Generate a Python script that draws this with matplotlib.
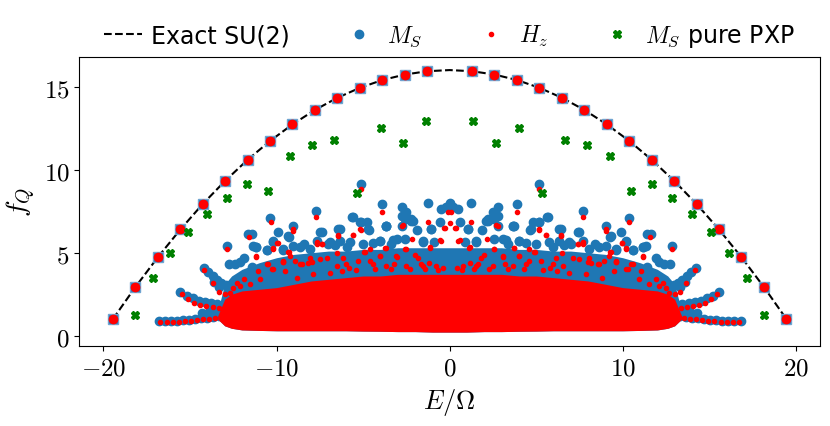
import numpy as np
import matplotlib.pyplot as plt

plt.rcParams['mathtext.fontset'] = 'cm'
plt.rcParams['font.family'] = ['DejaVu Sans']

# exact SU(2) tower (m = -15..15)
su2_E = [-19.46, -18.16, -16.86, -15.56, -14.27, -12.97, -11.67, -10.38, -9.08, -7.78,
         -6.49, -5.19, -3.89, -2.59, -1.30, 0.0, 1.30, 2.59, 3.89, 5.19, 6.49, 7.78,
         9.08, 10.38, 11.67, 12.97, 14.27, 15.56, 16.86, 18.16, 19.46]
su2_fq = [1.0, 2.93, 4.73, 6.4, 7.93, 9.33, 10.6, 11.73, 12.73, 13.6, 14.33, 14.93,
          15.4, 15.73, 15.93, 16.0, 15.93, 15.73, 15.4, 14.93, 14.33, 13.6, 12.73,
          11.73, 10.6, 9.33, 7.93, 6.4, 4.73, 2.93, 1.0]

# pure PXP scar states (left half, spectrum is symmetric)
pxp_E_left = [-18.16, -17.16, -16.14, -15.12, -14.02, -12.87, -11.68, -10.47, -9.24,
              -7.94, -6.67, -5.34, -3.99, -2.69, -1.34]
pxp_fq_left = [1.25, 3.5, 4.98, 6.23, 7.31, 8.31, 9.16, 8.73, 10.85, 11.49, 11.80,
               8.62, 12.49, 11.60, 12.95]

# bulk of the spectrum: dense core envelopes (left half)
core_E = [-13.4, -13.0, -12.6, -12.0, -11.0, -10.0, -9.0, -8.0, -7.0, -6.0, -5.0,
          -4.0, -3.0, -2.0, -1.0, 0.0]
core_top = [1.2, 2.2, 2.5, 2.7, 2.8, 2.9, 3.1, 3.3, 3.4, 3.5, 3.6, 3.6, 3.7, 3.7, 3.7, 3.7]
core_bot = [1.0, 0.6, 0.45, 0.35, 0.32, 0.3, 0.3, 0.3, 0.3, 0.3, 0.28, 0.27, 0.25,
            0.25, 0.22, 0.22]
band_top = [1.5, 3.1, 3.6, 4.0, 4.4, 4.7, 4.9, 5.0, 5.1, 5.1, 5.2, 5.2, 5.3, 5.3, 5.3, 5.3]

# M_S scattered states (left half)
ms_E_left = [-16.81, -16.45, -16.1, -15.75, -15.4, -15.05, -14.7, -14.35, -14.0, -13.65, -13.3,
             -14.3, -13.9, -13.5,
             -15.56, -15.2, -14.85, -14.5, -14.15, -13.8, -13.45,
             -14.22, -13.95, -13.7, -13.45, -13.2, -12.95, -13.6, -13.3,
             -12.87, -11.63, -10.37, -12.72, -12.1, -11.18, -9.9, -9.03, -9.32, -7.72,
             -11.34, -10.18, -10.57, -9.61, -9.26, -7.39, -6.44, -7.68, -8.65, -8.07,
             -7.01, -6.34, -5.95, -11.43,
             -5.15, -3.88, -2.78, -2.5, -1.25, -5.61, -5.15, -4.65, -3.69, -2.78, -2.21,
             -1.88, -0.58, -4.03, -3.27, -2.59, -1.54, -6.34, -4.8, -3.65, -2.78, -2.21,
             -1.06, -0.48,
             -11.43, -11.18, -10.57, -7.49, -6.92, -5.67, -5.19, -4.71, -4.03, -3.65,
             -2.59, -2.11, -1.06, -0.19, -1.54, -3.07, -10.18, -9.61, -9.03, -5.76,
             -4.99, -12.4, -11.9, -8.4, -6.6, -4.4, -3.4, -0.9]
ms_fq_left = [0.88, 0.88, 0.89, 0.9, 0.93, 0.97, 1.0, 1.04, 1.08, 1.12, 1.17,
              1.35, 1.42, 1.5,
              2.62, 2.42, 2.25, 2.12, 2.04, 1.98, 1.93,
              4.1, 3.85, 3.6, 3.38, 3.2, 3.05, 3.25, 2.95,
              5.38, 6.13, 7.07, 4.32, 4.46, 5.33, 6.27, 6.63, 5.99, 7.49,
              5.42, 5.66, 5.18, 5.18, 5.93, 6.23, 6.43, 5.72, 5.33, 5.22,
              5.52, 5.72, 5.33, 4.12,
              9.16, 7.93, 7.76, 7.45, 8.02, 7.13, 6.87, 6.39, 6.58, 6.63, 6.93,
              6.39, 6.88, 5.72, 5.78, 5.83, 5.72, 6.43, 6.87, 6.63, 7.19, 7.03,
              6.43, 7.63,
              6.13, 5.32, 5.18, 6.23, 5.63, 7.13, 6.83, 6.43, 5.72, 6.63,
              7.03, 6.93, 6.43, 7.73, 5.63, 5.83, 5.73, 5.22, 5.42, 5.63,
              5.53, 4.3, 4.7, 5.5, 5.45, 5.6, 5.5, 5.65]
ms_E_mid = [0.0]
ms_fq_mid = [8.02]

# H_z scattered states (left half)
hz_E_left = [-16.71, -16.35, -16.0, -15.66, -15.3, -14.95, -14.6, -14.25, -13.9, -13.55, -13.2,
             -15.46, -15.1, -14.75, -14.4, -14.05, -13.7, -13.35,
             -14.18, -13.68, -13.33, -13.0, -12.7,
             -5.15, -7.72, -10.34, -11.59, -9.03, -9.93, -11.18, -10.57, -10.18, -9.61,
             -9.26, -7.39, -6.44, -7.68, -8.07, -12.87, -3.88, -5.57, -5.15, -4.61,
             -4.96, -3.69, -2.54, -2.15, -1.25, -0.58, -0.35, -1.11, -4.03, -3.11,
             -1.83, -5.28, -6.15, -3.65, -2.5, -1.54, -0.77, -0.1, -0.29, -2.78,
             -9.22, -9.61, -8.55, -7.97, -7.49, -7.11, -6.53, -10.18, -10.95, -11.53,
             -8.93, -12.3, -11.9, -5.8, -4.4, -3.2, -1.2, -0.4,
             -11.18, -10.18, -9.95, -9.64, -9.32, -9.03, -8.65, -8.16, -7.68, -7.4,
             -6.49, -6.44, -5.96, -5.57, -5.19, -4.9, -4.61, -4.03, -3.74, -3.07,
             -2.59, -2.69, -1.98, -1.63, -1.15, -0.48, -10.47, -11.05, -10.28, -9.51,
             -12.5, -12.1, -8.8, -7.9, -6.9, -6.2, -5.4, -4.3, -3.4, -2.3, -1.4, -0.7]
hz_fq_left = [0.8, 0.8, 0.81, 0.83, 0.86, 0.9, 0.94, 0.98, 1.02, 1.06, 1.1,
              2.5, 2.22, 2.0, 1.88, 1.8, 1.73, 1.67,
              3.98, 3.17, 2.65, 2.5, 2.6,
              8.84, 7.13, 6.87, 5.93, 6.41, 5.58, 4.76, 4.32, 5.22, 4.46,
              5.02, 5.52, 6.02, 5.63, 4.66, 5.23, 7.43, 6.07, 6.39, 5.22,
              5.06, 5.26, 5.22, 5.83, 6.83, 5.78, 6.47, 5.3, 4.82, 4.78,
              4.66, 4.52, 4.66, 4.22, 4.22, 4.22, 4.22, 7.43, 6.47, 6.59,
              4.78, 4.52, 4.32, 4.42, 4.62, 4.66, 4.22, 4.02, 3.42, 3.11,
              4.52, 3.2, 3.4, 4.1, 4.3, 4.3, 4.4, 4.1,
              4.78, 5.26, 5.58, 4.46, 5.02, 6.33, 4.32, 4.38, 5.52, 5.52,
              4.96, 6.06, 4.32, 6.06, 6.43, 5.02, 4.52, 4.82, 5.26, 4.72,
              5.22, 6.67, 4.86, 4.32, 5.32, 5.72, 4.32, 3.92, 4.02, 3.92,
              2.9, 3.0, 3.5, 3.7, 3.8, 3.9, 3.95, 4.0, 4.0, 4.05, 4.0, 3.95]
hz_E_mid = [0.0]
hz_fq_mid = [6.8]


def mirror(e, f):
    e = np.asarray(e)
    f = np.asarray(f)
    return np.concatenate([e, -e[::-1]]), np.concatenate([f, f[::-1]])


core_x, core_hi = mirror(core_E, core_top)
_, core_lo = mirror(core_E, core_bot)
_, band_hi = mirror(core_E, band_top)
pxp_E, pxp_fq = mirror(pxp_E_left, pxp_fq_left)
ms_E, ms_fq = mirror(ms_E_left, ms_fq_left)
hz_E, hz_fq = mirror(hz_E_left, hz_fq_left)
ms_E = np.concatenate([ms_E, ms_E_mid])
ms_fq = np.concatenate([ms_fq, ms_fq_mid])
hz_E = np.concatenate([hz_E, hz_E_mid])
hz_fq = np.concatenate([hz_fq, hz_fq_mid])

su2_E = np.array(su2_E)
su2_fq = np.array(su2_fq)
tower = su2_E != 0

fig = plt.figure(figsize=(8.3, 4.27), dpi=100)
ax = fig.add_axes([0.0955, 0.188, 0.8925, 0.6755])

blue = '#1f77b4'
ax.fill_between(core_x, core_lo, band_hi, color=blue, lw=0, zorder=1)
ax.plot(ms_E, ms_fq, 'o', color=blue, ms=6, zorder=2, label=r'$M_S$')
ax.fill_between(core_x, core_lo, core_hi, color='red', lw=0, zorder=3)
ax.plot(hz_E, hz_fq, '.', color='red', ms=6, zorder=4, label=r'$H_z$')
ax.plot(su2_E, su2_fq, '--', color='black', lw=1.5, zorder=5, label='Exact SU(2)')
ax.plot(su2_E[tower], su2_fq[tower], 's', color=blue, ms=7, mec='#6fa3d0', zorder=6)
ax.plot(su2_E[tower], su2_fq[tower], 'o', color='red', ms=6, zorder=7)
ax.plot(pxp_E, pxp_fq, 'X', color='green', ms=6, zorder=8, label=r'$M_S$ pure PXP')

ax.set_xlim(-21.4, 21.4)
ax.set_ylim(-0.6, 16.77)
ax.set_xticks([-20, -10, 0, 10, 20])
ax.set_xticklabels([r'$-20$', r'$-10$', r'$0$', r'$10$', r'$20$'])
ax.set_yticks([0, 5, 10, 15])
ax.set_yticklabels([r'$0$', r'$5$', r'$10$', r'$15$'])
ax.tick_params(labelsize=18)
ax.set_xlabel(r'$E/\Omega$', fontsize=19, labelpad=5)
ax.set_ylabel(r'$f_Q$', fontsize=20, labelpad=4)

h, l = ax.get_legend_handles_labels()
order = [2, 0, 1, 3]
ax.legend([h[i] for i in order], [l[i] for i in order], loc='lower center',
          bbox_to_anchor=(0.5, 0.955), ncol=4, frameon=False, fontsize=17,
          handlelength=1.6, handletextpad=0.4, columnspacing=2.1)

fig.savefig('out.png', dpi=100)
